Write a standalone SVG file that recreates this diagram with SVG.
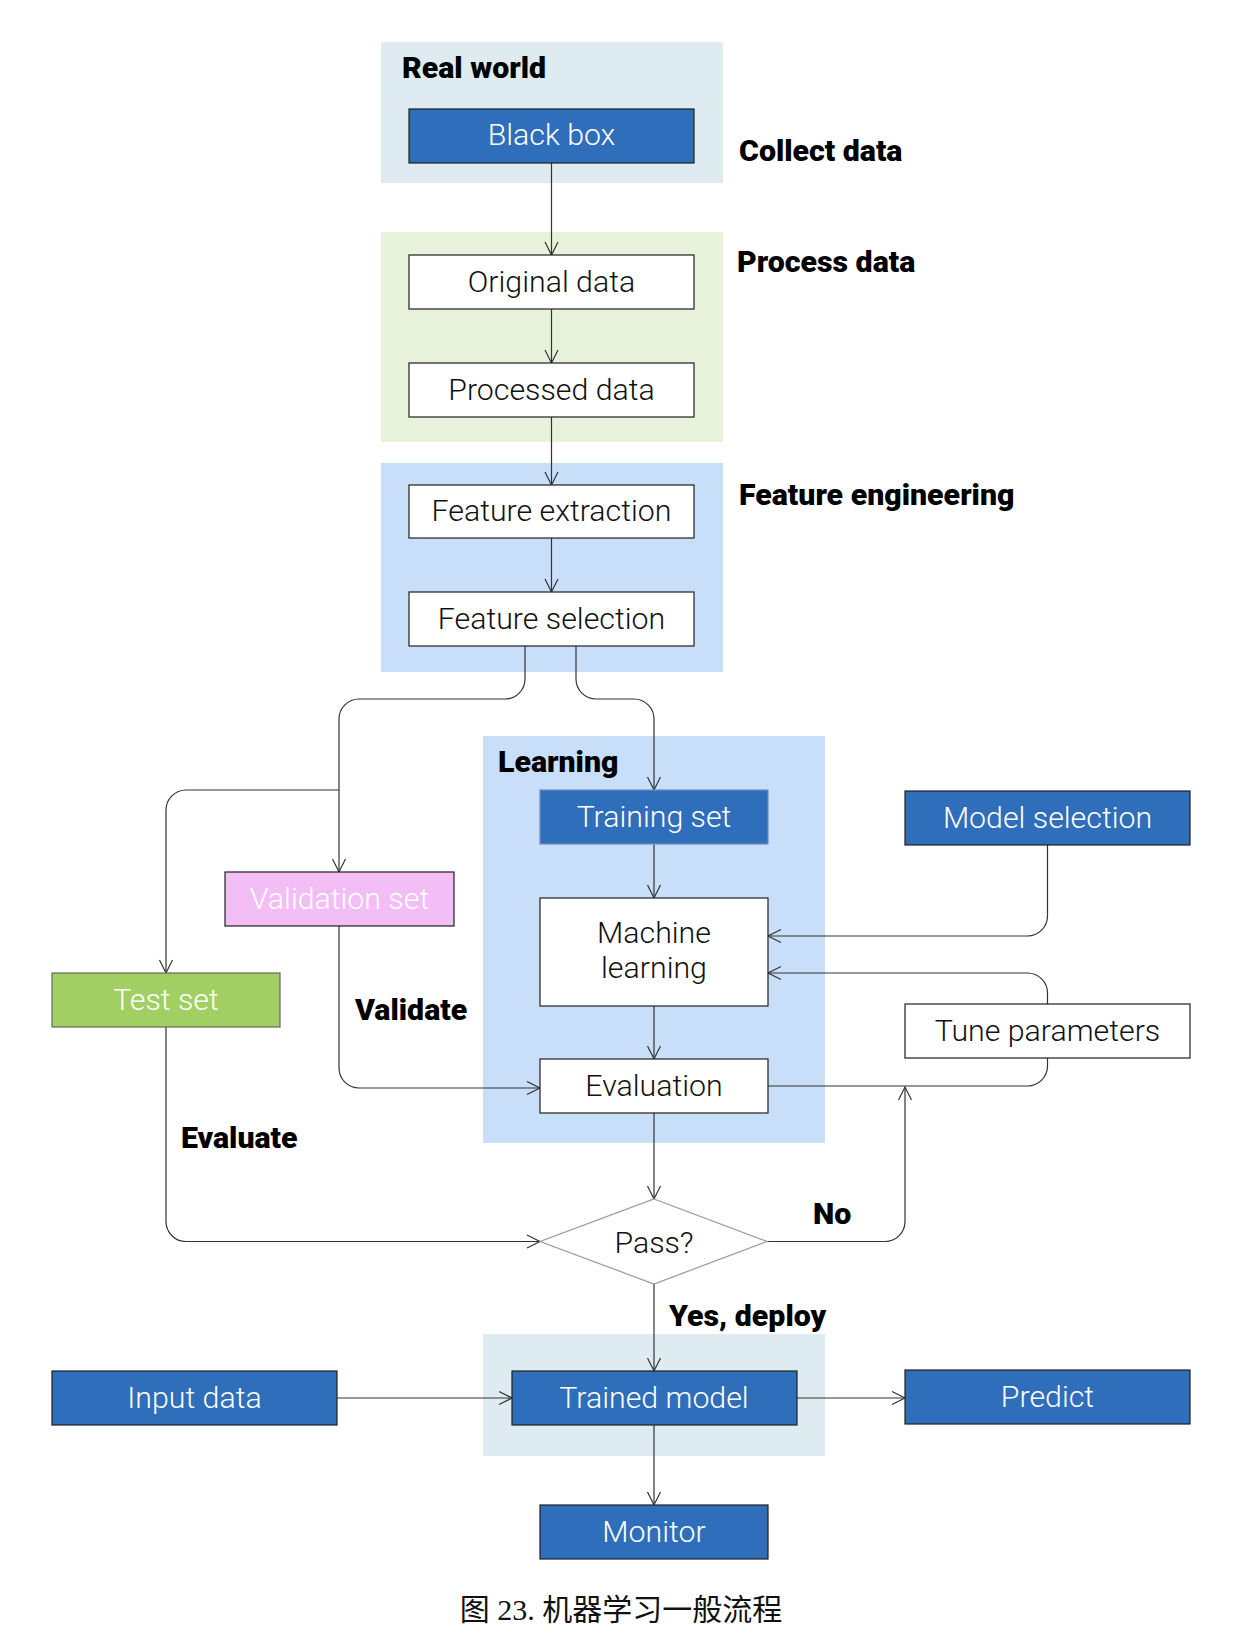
<svg xmlns="http://www.w3.org/2000/svg" width="1250" height="1642" viewBox="0 0 1250 1642">
<style>
.grp{stroke:none}
.box{stroke:#1f1f1f;stroke-width:1.2}
.blue{fill:#2F6EBA}
.white{fill:#ffffff}
.t{font-family:Roboto,"Liberation Sans",sans-serif;font-weight:300;font-size:30.3px;text-anchor:middle}
.tw{fill:#ffffff}
.tb{fill:#111111}
.lbl{font-family:Roboto,"Liberation Sans",sans-serif;font-weight:900;font-size:30.3px;fill:#000000}
.con{fill:none;stroke:#333333;stroke-width:1.2}
</style>
<defs>
<marker id="arr" markerUnits="userSpaceOnUse" markerWidth="16" markerHeight="16" refX="14" refY="7.5" orient="auto">
<path d="M1,1 L14,7.5 L1,14" fill="none" stroke="#333333" stroke-width="1.2"/>
</marker>
</defs>
<rect width="1250" height="1642" fill="#ffffff"/>

<g id="group-real-world">
<rect class="grp" x="381" y="42" width="342" height="141" fill="#DEEBF1"/>
<text class="lbl" x="402" y="78">Real world</text>
</g>
<g id="group-process">
<rect class="grp" x="381" y="232" width="342" height="210" fill="#E8F2DB"/>
</g>
<g id="group-feature">
<rect class="grp" x="381" y="463" width="342" height="209" fill="#C9DEF9"/>
</g>
<g id="group-learning">
<rect class="grp" x="483" y="736" width="342" height="407" fill="#C9DEF9"/>
<text class="lbl" x="498" y="772">Learning</text>
</g>
<g id="group-deploy">
<rect class="grp" x="483" y="1334" width="342" height="122" fill="#DEEBF1"/>
</g>

<g id="label-collect"><text class="lbl" x="739" y="161">Collect data</text></g>
<g id="label-process"><text class="lbl" x="737" y="272">Process data</text></g>
<g id="label-feature"><text class="lbl" x="739" y="505">Feature engineering</text></g>
<g id="label-validate"><text class="lbl" x="355" y="1020">Validate</text></g>
<g id="label-evaluate"><text class="lbl" x="181" y="1148">Evaluate</text></g>
<g id="label-no"><text class="lbl" x="813" y="1224">No</text></g>
<g id="label-yes"><text class="lbl" x="669" y="1326">Yes, deploy</text></g>

<g id="connectors">
<path class="con" d="M551.5,163 V255" marker-end="url(#arr)"/>
<path class="con" d="M551.5,309 V363" marker-end="url(#arr)"/>
<path class="con" d="M551.5,417 V485" marker-end="url(#arr)"/>
<path class="con" d="M551.5,538 V592" marker-end="url(#arr)"/>
<path class="con" d="M525,646 V679 A20,20 0 0 1 505,699 H359 A20,20 0 0 0 339,719 V872" marker-end="url(#arr)"/>
<path class="con" d="M339,790 H186 A20,20 0 0 0 166,810 V973" marker-end="url(#arr)"/>
<path class="con" d="M576,646 V679 A20,20 0 0 0 596,699 H634 A20,20 0 0 1 654,719 V790" marker-end="url(#arr)"/>
<path class="con" d="M654,844 V898" marker-end="url(#arr)"/>
<path class="con" d="M654,1006 V1059" marker-end="url(#arr)"/>
<path class="con" d="M1047.5,845 V916 A20,20 0 0 1 1027.5,936 H768" marker-end="url(#arr)"/>
<path class="con" d="M1047.5,1004 V993 A20,20 0 0 0 1027.5,973 H768" marker-end="url(#arr)"/>
<path class="con" d="M768,1086 H1027.5 A20,20 0 0 0 1047.5,1066 V1058"/>
<path class="con" d="M339,926 V1068 A20,20 0 0 0 359,1088 H540" marker-end="url(#arr)"/>
<path class="con" d="M654,1113 V1199" marker-end="url(#arr)"/>
<path class="con" d="M166,1027 V1221 A20,20 0 0 0 186,1241.5 H540" marker-end="url(#arr)"/>
<path class="con" d="M767,1241.5 H885 A20,20 0 0 0 905,1221.5 V1087" marker-end="url(#arr)"/>
<path class="con" d="M654,1284 V1371" marker-end="url(#arr)"/>
<path class="con" d="M337,1398 H512" marker-end="url(#arr)"/>
<path class="con" d="M797,1398 H905" marker-end="url(#arr)"/>
<path class="con" d="M654,1425 V1505" marker-end="url(#arr)"/>
</g>

<g id="node-black-box">
<rect class="box blue" x="409" y="109" width="285" height="54"/>
<text class="t tw" x="551.5" y="145">Black box</text>
</g>
<g id="node-original-data">
<rect class="box white" x="409" y="255" width="285" height="54"/>
<text class="t tb" x="551.5" y="291.5">Original data</text>
</g>
<g id="node-processed-data">
<rect class="box white" x="409" y="363" width="285" height="54"/>
<text class="t tb" x="551.5" y="399.5">Processed data</text>
</g>
<g id="node-feature-extraction">
<rect class="box white" x="409" y="485" width="285" height="53"/>
<text class="t tb" x="551.5" y="521">Feature extraction</text>
</g>
<g id="node-feature-selection">
<rect class="box white" x="409" y="592" width="285" height="54"/>
<text class="t tb" x="551.5" y="628.5">Feature selection</text>
</g>
<g id="node-training-set">
<rect class="box blue" x="540" y="790" width="228" height="54" style="stroke:#6f8fbf"/>
<text class="t tw" x="654" y="826.5">Training set</text>
</g>
<g id="node-model-selection">
<rect class="box blue" x="905" y="791" width="285" height="54"/>
<text class="t tw" x="1047.5" y="827.5">Model selection</text>
</g>
<g id="node-validation-set">
<rect class="box" x="225" y="872" width="229" height="54" fill="#F3BDF6"/>
<text class="t tw" x="339.5" y="908.5">Validation set</text>
</g>
<g id="node-machine-learning">
<rect class="box white" x="540" y="898" width="228" height="108"/>
<text class="t tb" x="654" y="943">Machine</text>
<text class="t tb" x="654" y="978">learning</text>
</g>
<g id="node-test-set">
<rect class="box" x="52" y="973" width="228" height="54" fill="#A1CF63" style="stroke:#666666"/>
<text class="t tw" x="166" y="1009.5">Test set</text>
</g>
<g id="node-tune-parameters">
<rect class="box white" x="905" y="1004" width="285" height="54"/>
<text class="t tb" x="1047.5" y="1040.5">Tune parameters</text>
</g>
<g id="node-evaluation">
<rect class="box white" x="540" y="1059" width="228" height="54"/>
<text class="t tb" x="654" y="1095.5">Evaluation</text>
</g>
<g id="node-pass">
<polygon points="654,1199 767,1241.5 654,1284 540,1241.5" fill="#ffffff" stroke="#999999" stroke-width="1.2"/>
<text class="t tb" x="654" y="1252.5">Pass?</text>
</g>
<g id="node-input-data">
<rect class="box blue" x="52" y="1371" width="285" height="54"/>
<text class="t tw" x="194.5" y="1407.5">Input data</text>
</g>
<g id="node-trained-model">
<rect class="box blue" x="512" y="1371" width="285" height="54"/>
<text class="t tw" x="654" y="1407.5">Trained model</text>
</g>
<g id="node-predict">
<rect class="box blue" x="905" y="1370" width="285" height="54"/>
<text class="t tw" x="1047.5" y="1406.5">Predict</text>
</g>
<g id="node-monitor">
<rect class="box blue" x="540" y="1505" width="228" height="54"/>
<text class="t tw" x="654" y="1541.5">Monitor</text>
</g>

<g id="caption">
<text x="621" y="1620" font-family="'Liberation Serif','Noto Sans CJK SC',serif" font-size="30" text-anchor="middle" fill="#111111">图 23. 机器学习一般流程</text>
</g>
</svg>
